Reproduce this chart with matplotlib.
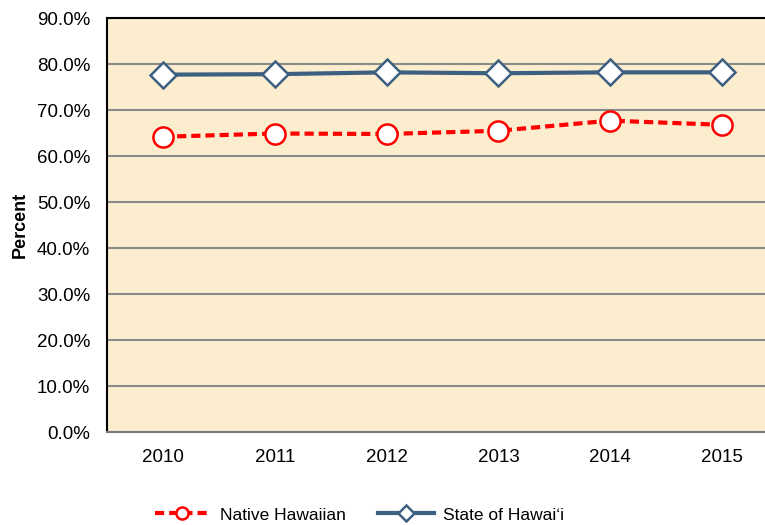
import numpy as np
import matplotlib.pyplot as plt
from matplotlib.ticker import FuncFormatter

plt.rcParams['font.family'] = ['Liberation Sans', 'DejaVu Sans']

# データ
years = ['2010', '2011', '2012', '2013', '2014', '2015']
native_hawaiian = [64.2, 64.9, 64.8, 65.5, 67.7, 66.8]
state_hawaii = [77.7, 77.8, 78.2, 78.0, 78.2, 78.2]

fig = plt.figure(figsize=(7.65, 5.25), dpi=100)
ax = fig.add_axes([0.1399, 0.177, 0.877, 0.7886])
ax.set_facecolor('#fbedce')

x = np.arange(len(years))
ax.plot(x, native_hawaiian, color='#ff0000', lw=3, ls=(0, (2.2, 1.2)),
        marker='o', ms=14.5, mfc='white', mec='#ff0000', mew=1.8,
        label='Native Hawaiian', zorder=3)
ax.plot(x, state_hawaii, color='#3d5f80', lw=3,
        marker='D', ms=13, mfc='white', mec='#3d5f80', mew=1.8,
        label='State of Hawai\u02bbi', zorder=3)

ax.set_xlim(-0.5, 5.5)
ax.set_ylim(0, 90)
ax.set_xticks(x)
ax.set_xticklabels(years)
ax.set_yticks(np.arange(0, 91, 10))
ax.yaxis.set_major_formatter(FuncFormatter(lambda v, p: '%.1f%%' % v))
ax.tick_params(length=0, labelsize=13.5, pad=12)
ax.tick_params(axis='x', pad=12)
ax.grid(axis='y', color='#8a8a8a', lw=1.5)
ax.set_axisbelow(True)

ax.spines['right'].set_visible(False)
ax.spines['left'].set_color('black')
ax.spines['left'].set_linewidth(1.5)
ax.spines['top'].set_color('black')
ax.spines['top'].set_linewidth(1.5)
ax.spines['bottom'].set_color('#7a7a7a')
ax.spines['bottom'].set_linewidth(1.5)

ax.set_ylabel('Percent', fontsize=13, fontweight='bold', labelpad=6)

fig.legend(loc='lower center', bbox_to_anchor=(0.47, -0.025), ncol=2,
           frameon=False, fontsize=12.5, handlelength=3.2, markerscale=0.6,
           handletextpad=0.57, columnspacing=1.85)

fig.savefig('out.png', dpi=100)
